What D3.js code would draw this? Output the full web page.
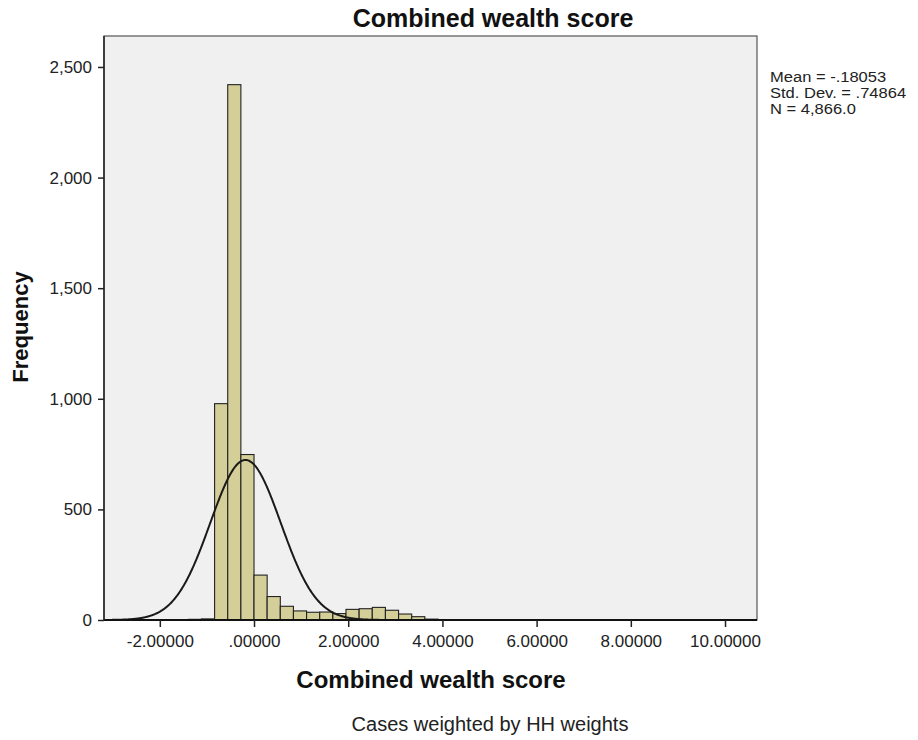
<!DOCTYPE html>
<html>
<head>
<meta charset="utf-8">
<script src="https://cdn.jsdelivr.net/npm/d3@7"></script>
<style>
  html, body { margin: 0; padding: 0; background: #ffffff; }
  svg { display: block; font-family: "Liberation Sans", Arial, sans-serif; }
</style>
</head>
<body>
<svg id="chart" width="918" height="740"></svg>
<script>
// ---- data ----
const binWidth = 0.279;
const binLeft = [-1.953, -1.674, -1.395, -1.116, -0.837, -0.558, -0.279, 0.000, 0.279, 0.558, 0.837, 1.116, 1.395, 1.674, 1.953, 2.232, 2.511, 2.790, 3.069, 3.348, 3.627, 3.906, 9.207];
const frequency = [1, 2, 3, 5, 978, 2420, 748, 203, 106, 62, 41, 35, 36, 29, 48, 51, 57, 44, 27, 15, 4, 1, 2];
const xTicks = [-2, 0, 2, 4, 6, 8, 10];
const xTickLabels = ["-2.00000", ".00000", "2.00000", "4.00000", "6.00000", "8.00000", "10.00000"];
const yTicks = [0, 500, 1000, 1500, 2000, 2500];
const yTickLabels = ["0", "500", "1,000", "1,500", "2,000", "2,500"];
const statMean = -0.18053;
const statSD = 0.74864;
const statN = 4866;
const legendLines = ["Mean = -.18053", "Std. Dev. = .74864", "N = 4,866.0"];
const titleText = "Combined wealth score";
const xTitle = "Combined wealth score";
const yTitle = "Frequency";
const footnote = "Cases weighted by HH weights";

// ---- layout ----
const plot = { left: 104, right: 757, top: 36, bottom: 620 };
const svg = d3.select("#chart");

const x = d3.scaleLinear().domain([-3.185, 10.679]).range([plot.left, plot.right]);
const y = d3.scaleLinear().domain([0, 2640]).range([plot.bottom, plot.top]);

// plot background
svg.append("rect")
  .attr("x", plot.left).attr("y", plot.top)
  .attr("width", plot.right - plot.left).attr("height", plot.bottom - plot.top)
  .attr("fill", "#f0f0f0").attr("stroke", "#555").attr("stroke-width", 1.2);

svg.append("defs").append("clipPath").attr("id", "clip")
  .append("rect").attr("x", plot.left).attr("y", plot.top)
  .attr("width", plot.right - plot.left).attr("height", plot.bottom - plot.top);

// bars
const bins = binLeft.map((b, i) => ({ x0: b, x1: b + binWidth, f: frequency[i] }));
svg.append("g").selectAll("rect").data(bins).join("rect")
  .attr("x", d => x(d.x0))
  .attr("y", d => y(d.f))
  .attr("width", d => x(d.x1) - x(d.x0))
  .attr("height", d => y(0) - y(d.f))
  .attr("fill", "#d4cf98")
  .attr("stroke", "#222")
  .attr("stroke-width", 1.1);

// normal curve from displayed statistics
const xs = d3.range(-3.185, 10.68, 0.01);
const dens = v => statN * binWidth / (statSD * Math.sqrt(2 * Math.PI)) * Math.exp(-0.5 * Math.pow((v - statMean) / statSD, 2));
svg.append("path")
  .datum(xs)
  .attr("clip-path", "url(#clip)")
  .attr("fill", "none")
  .attr("stroke", "#1a1a1a")
  .attr("stroke-width", 2)
  .attr("d", d3.line().x(d => x(d)).y(d => y(dens(d))).curve(d3.curveBasis));

// axes lines
svg.append("line").attr("x1", plot.left).attr("x2", plot.right)
  .attr("y1", plot.bottom).attr("y2", plot.bottom)
  .attr("stroke", "#111").attr("stroke-width", 2);
svg.append("line").attr("x1", plot.left).attr("x2", plot.left)
  .attr("y1", plot.top).attr("y2", plot.bottom)
  .attr("stroke", "#222").attr("stroke-width", 1.5);

// y axis ticks
const yAxis = d3.axisLeft(y).tickValues(yTicks).tickSize(6).tickPadding(6)
  .tickFormat((d, i) => yTickLabels[i]);
const gy = svg.append("g").attr("transform", `translate(${plot.left},0)`).call(yAxis);
gy.select(".domain").remove();
gy.selectAll(".tick line").attr("stroke", "#222").attr("stroke-width", 1.5);
gy.selectAll(".tick text").attr("font-size", 17).attr("fill", "#222")
  .attr("font-family", "Liberation Sans, Arial, sans-serif");

// x axis ticks
const xAxis = d3.axisBottom(x).tickValues(xTicks).tickSize(7).tickPadding(8)
  .tickFormat((d, i) => xTickLabels[i]);
const gx = svg.append("g").attr("transform", `translate(0,${plot.bottom})`).call(xAxis);
gx.select(".domain").remove();
gx.selectAll(".tick line").attr("stroke", "#222").attr("stroke-width", 1.5);
gx.selectAll(".tick text").attr("font-size", 17).attr("fill", "#222")
  .attr("font-family", "Liberation Sans, Arial, sans-serif");

// titles
svg.append("text").attr("x", 493).attr("y", 27).attr("text-anchor", "middle")
  .attr("font-size", 25).attr("font-weight", "bold").attr("fill", "#111").text(titleText);
svg.append("text").attr("x", 431).attr("y", 688).attr("text-anchor", "middle")
  .attr("font-size", 24).attr("font-weight", "bold").attr("fill", "#111").text(xTitle);
svg.append("text").attr("transform", "translate(28,327) rotate(-90)").attr("text-anchor", "middle")
  .attr("font-size", 22).attr("font-weight", "bold").attr("fill", "#111").text(yTitle);
svg.append("text").attr("x", 490).attr("y", 731).attr("text-anchor", "middle")
  .attr("font-size", 20).attr("fill", "#222").text(footnote);

// stats legend (slightly widened glyphs to mimic the tight, wide original)
const leg = svg.append("g").selectAll("text").data(legendLines).join("text")
  .attr("x", 770).attr("y", (d, i) => 82 + i * 16)
  .attr("font-size", 14)
  .attr("fill", "#222").text(d => d);
leg.each(function () {
  const w = this.getComputedTextLength();
  d3.select(this).attr("textLength", w * 1.18).attr("lengthAdjust", "spacingAndGlyphs");
});
</script>
</body>
</html>
